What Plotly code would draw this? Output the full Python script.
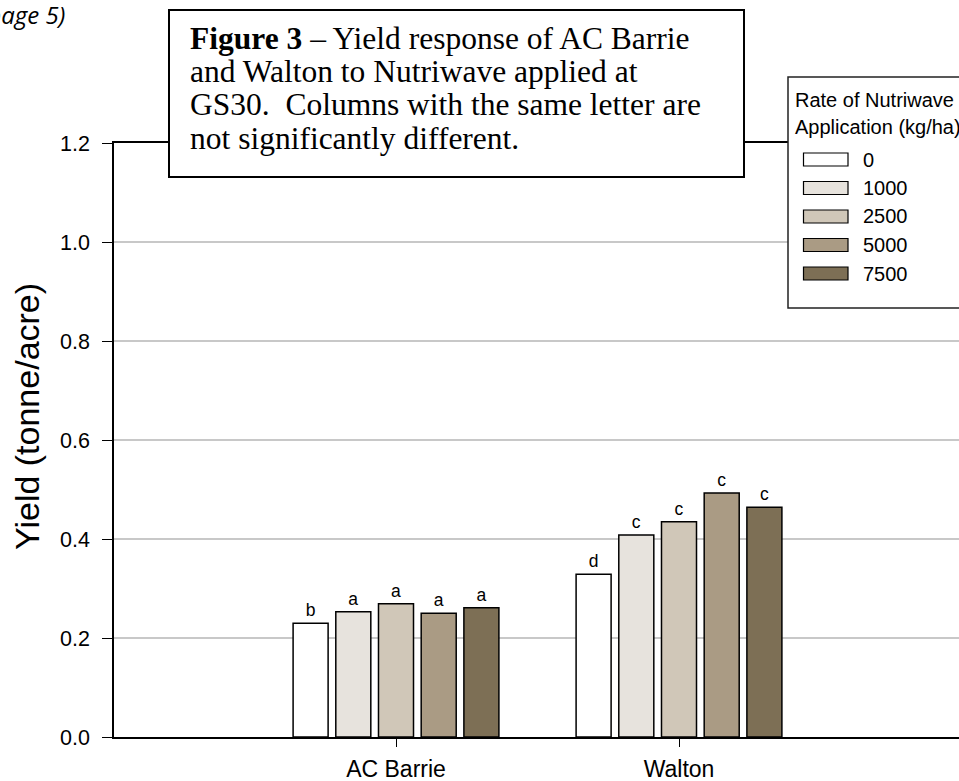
import plotly.graph_objects as go

# ---- data ----
varieties = ["AC Barrie", "Walton"]
rates = ["0", "1000", "2500", "5000", "7500"]
yield_0 = [0.230, 0.329]
yield_1000 = [0.253, 0.408]
yield_2500 = [0.269, 0.435]
yield_5000 = [0.250, 0.493]
yield_7500 = [0.261, 0.464]
letters_0 = ["b", "d"]
letters_1000 = ["a", "c"]
letters_2500 = ["a", "c"]
letters_5000 = ["a", "c"]
letters_7500 = ["a", "c"]
y_ticks = [0.0, 0.2, 0.4, 0.6, 0.8, 1.0, 1.2]
caption_lines = [
    "<b>Figure 3</b> – Yield response of AC Barrie",
    "and Walton to Nutriwave applied at",
    "GS30.  Columns with the same letter are",
    "not significantly different.",
]
legend_title_lines = ["Rate of Nutriwave", "Application (kg/ha)"]

series = [yield_0, yield_1000, yield_2500, yield_5000, yield_7500]
letters = [letters_0, letters_1000, letters_2500, letters_5000, letters_7500]
colors = ["#ffffff", "#e7e3dd", "#d0c7b8", "#aa9b84", "#7d6f55"]

# ---- geometry (pixels) ----
W, H = 959, 781
ML, MR, MT, MB = 114, 0, 143, 44
PW, PH = W - ML - MR, H - MT - MB


def px(x):
    return (x - ML) / PW


def py(y):
    return (H - MB - y) / PH


fig = go.Figure()
for name, vals, labs, col in zip(rates, series, letters, colors):
    fig.add_trace(go.Bar(
        x=varieties, y=vals, name=name, text=labs,
        textposition="outside", textangle=0,
        textfont=dict(family="Arial", size=17.5, color="#000000"),
        cliponaxis=False,
        marker=dict(color=col, line=dict(color="#000000", width=1.5)),
        showlegend=False,
    ))

shapes = []
annotations = []

# caption box
shapes.append(dict(type="rect", xref="paper", yref="paper",
                   x0=px(169), x1=px(744), y0=py(177), y1=py(10),
                   line=dict(color="#000000", width=2), fillcolor="#ffffff",
                   layer="above"))
base_y = [50, 83, 116, 149]
for line, by in zip(caption_lines, base_y):
    annotations.append(dict(text=line, xref="paper", yref="paper",
                            x=px(188), y=py(by - 11), xanchor="left", yanchor="middle",
                            showarrow=False,
                            font=dict(family="Liberation Serif, Times New Roman, serif",
                                      size=31.5, color="#000000")))

# legend box
shapes.append(dict(type="rect", xref="paper", yref="paper",
                   x0=px(788), x1=px(990), y0=py(308), y1=py(77),
                   line=dict(color="#222222", width=1.5), fillcolor="#ffffff",
                   layer="above"))
for line, cy in zip(legend_title_lines, [100, 126.5]):
    annotations.append(dict(text=line, xref="paper", yref="paper",
                            x=px(793), y=py(cy), xanchor="left", yanchor="middle",
                            showarrow=False,
                            font=dict(family="Arial", size=20, color="#000000")))
row_y = [159.5, 188, 216.5, 245, 273.5]
for name, col, cy in zip(rates, colors, row_y):
    shapes.append(dict(type="rect", xref="paper", yref="paper",
                       x0=px(803.5), x1=px(848), y0=py(cy + 6.5), y1=py(cy - 6.5),
                       line=dict(color="#000000", width=1.2), fillcolor=col,
                       layer="above"))
    annotations.append(dict(text=name, xref="paper", yref="paper",
                            x=px(861), y=py(cy), xanchor="left", yanchor="middle",
                            showarrow=False,
                            font=dict(family="Arial", size=20, color="#000000")))

# y-axis title
annotations.append(dict(text="Yield (tonne/acre)", xref="paper", yref="paper",
                        x=px(27), y=py(417), xanchor="center", yanchor="middle",
                        textangle=-90, showarrow=False,
                        font=dict(family="Arial", size=34, color="#000000")))

# page fragment at top-left
annotations.append(dict(text="<i>(see page 5)</i>", xref="paper", yref="paper",
                        x=px(67), y=py(14), xanchor="right", yanchor="middle",
                        showarrow=False,
                        font=dict(family="Open Sans", size=24, color="#000000")))

fig.update_layout(
    width=W, height=H,
    margin=dict(l=ML, r=MR, t=MT, b=MB, autoexpand=False),
    paper_bgcolor="#ffffff", plot_bgcolor="#ffffff",
    barmode="group", bargap=0.2456, bargroupgap=0.18,
    showlegend=False,
    shapes=shapes, annotations=annotations,
    xaxis=dict(type="category", categoryorder="array", categoryarray=varieties,
               range=[-0.99647, 1.9894],
               showline=True, linecolor="#000000", linewidth=2, mirror=True,
               ticks="outside", ticklen=8, tickwidth=1, tickcolor="#000000",
               showgrid=False, ticklabelstandoff=2,
               tickfont=dict(family="Arial", size=23, color="#000000")),
    yaxis=dict(range=[0, 1.2], tickvals=y_ticks, tickformat=".1f",
               showline=True, linecolor="#000000", linewidth=1.5,
               ticks="outside", ticklen=10, tickwidth=1, tickcolor="#000000",
               showgrid=True, gridcolor="#c8c8c8", gridwidth=1.5,
               zeroline=False, ticklabelstandoff=8,
               tickfont=dict(family="Arial", size=21.5, color="#000000")),
)

fig.write_html("out.html")
